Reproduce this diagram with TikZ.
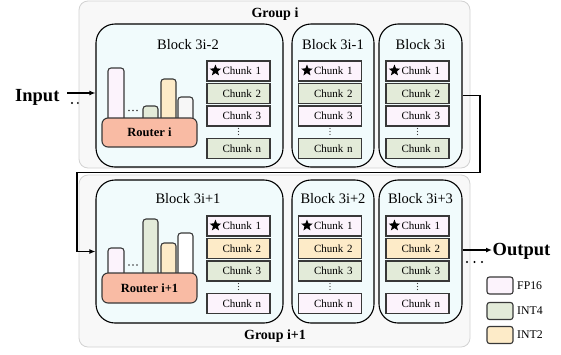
\documentclass[tikz,border=0pt]{standalone}
\usepackage{fontspec}
\setmainfont{Liberation Serif}
\usetikzlibrary{shapes.geometric,arrows.meta}
\definecolor{fp}{HTML}{FCF3FC}
\definecolor{ifour}{HTML}{E3EBD9}
\definecolor{itwo}{HTML}{FDEBC8}
\definecolor{rt}{HTML}{F9BBA4}
\definecolor{blk}{HTML}{F1FBFC}
\definecolor{grp}{HTML}{F8F8F8}
\definecolor{grpline}{HTML}{D2D2D2}
\definecolor{wb}{HTML}{F7F7F7}
\definecolor{ln}{HTML}{383838}
\tikzset{
  groupbox/.style={draw=grpline, fill=grp, line width=0.8pt, rounded corners=9pt, inner sep=0pt},
  blockbox/.style={draw=black, fill=blk, line width=1.1pt, rounded corners=19pt, inner sep=0pt},
  chunk/.style={draw=ln, line width=1.1pt, minimum width=63pt, minimum height=20pt, inner sep=0pt,
    text width=45pt, align=right, font=\fontsize{11}{12}\selectfont},
  router/.style={draw=ln, fill=rt, line width=1.1pt, rounded corners=6pt, minimum width=95pt,
    inner sep=0pt, font=\bfseries\fontsize{12.5}{14}\selectfont},
  barbox/.style={draw=ln, line width=1.1pt, rounded corners=3pt},
  legbox/.style={draw=ln, line width=1.1pt, rounded corners=2.5pt, minimum width=26pt, minimum height=17pt, inner sep=0pt},
  legtext/.style={anchor=west, inner sep=0pt, font=\fontsize{11.8}{13}\selectfont},
  title/.style={inner sep=0pt, font=\fontsize{14.5}{16}\selectfont},
  grouptitle/.style={inner sep=0pt, font=\bfseries\fontsize{14}{16}\selectfont},
  bigtext/.style={inner sep=0pt, font=\bfseries\fontsize{18.5}{20}\selectfont},
  starmark/.style={star, star points=5, star point ratio=2.3, fill=black, draw=none, minimum size=12pt, inner sep=0pt},
  conn/.style={draw=black, line width=1.4pt, -{Latex[length=6pt,width=5pt]}},
  vdot/.style={fill=ln, draw=none, circle, inner sep=0pt, minimum size=1.3pt},
  bdot/.style={fill=black, draw=none, circle, inner sep=0pt, minimum size=2.2pt}
}
\begin{document}
\begin{tikzpicture}[x=1pt,y=-1pt]
\useasboundingbox (0,0) rectangle (561,354);
% dots behind group near input
\foreach \dx [count=\k] in {72,78,84} \node[bdot] (ind\k) at (\dx,103) {};
% groups
\node[groupbox, minimum width=391pt, minimum height=167pt] (G1) at (274.5,84.5) {};
\node[groupbox, minimum width=391pt, minimum height=172pt] (G2) at (274.5,261) {};
\node[grouptitle] (G1t) at (275,14) {Group i};
\node[grouptitle] (G2t) at (275,336) {Group i+1};
% blocks
\node[blockbox, minimum width=187pt, minimum height=143pt] (A) at (189.5,95.5) {};
\node[blockbox, minimum width=82pt, minimum height=143pt] (B) at (333,95.5) {};
\node[blockbox, minimum width=83pt, minimum height=143pt] (C) at (420.5,95.5) {};
\node[blockbox, minimum width=187pt, minimum height=143pt] (D) at (189.5,251.5) {};
\node[blockbox, minimum width=82pt, minimum height=143pt] (E) at (333,251.5) {};
\node[blockbox, minimum width=83pt, minimum height=143pt] (F) at (420.5,251.5) {};
\node[title] (At) at (188,45) {Block 3i-2};
\node[title] (Bt) at (333,45) {Block 3i-1};
\node[title] (Ct) at (420.5,45) {Block 3i};
\node[title] (Dt) at (188,199) {Block 3i+1};
\node[title] (Et) at (333,199) {Block 3i+2};
\node[title] (Ft) at (420.5,199) {Block 3i+3};
% top chunks
\foreach \p/\cx in {A/238.5, B/330, C/417.5} {
  \node[chunk, fill=fp] (\p1) at (\cx,71) {Chunk 1};
  \node[chunk, fill=ifour] (\p2) at (\cx,93.5) {Chunk 2};
  \node[chunk, fill=fp] (\p3) at (\cx,116) {Chunk 3};
  \node[chunk, fill=ifour] (\p n) at (\cx,148.5) {Chunk n};
  \node[starmark] (\p s) at ([xshift=9pt,yshift=0.5pt]\p1.west) {};
  \foreach \dy in {128.5,131.5,134.5} \node[vdot] at (\cx,\dy) {};
}
% bottom chunks
\foreach \p/\cx in {D/238.5, E/330, F/417.5} {
  \node[chunk, fill=fp] (\p1) at (\cx,226) {Chunk 1};
  \node[chunk, fill=itwo] (\p2) at (\cx,248.5) {Chunk 2};
  \node[chunk, fill=ifour] (\p3) at (\cx,271) {Chunk 3};
  \node[chunk, fill=fp] (\p n) at (\cx,303.5) {Chunk n};
  \node[starmark] (\p s) at ([xshift=9pt,yshift=0.5pt]\p1.west) {};
  \foreach \dy in {283.5,286.5,289.5} \node[vdot] at (\cx,\dy) {};
}
% bars top
\draw[barbox, fill=fp] (108,68) rectangle (124,124);
\draw[barbox, fill=ifour] (143,106) rectangle (158,124);
\draw[barbox, fill=itwo] (161,79) rectangle (176,124);
\draw[barbox, fill=wb] (178,97) rectangle (193,124);
\foreach \dx in {129,133,137} \node[vdot, minimum size=1.8pt] at (\dx,110.5) {};
\node[router, minimum height=29pt] (RA) at (149.5,132.5) {Router i};
% bars bottom
\draw[barbox, fill=fp] (108,248) rectangle (124,280);
\draw[barbox, fill=ifour] (143,219) rectangle (158,280);
\draw[barbox, fill=itwo] (161,243) rectangle (176,280);
\draw[barbox, fill=white] (178,233) rectangle (193,280);
\foreach \dx in {129,133,137} \node[vdot, minimum size=1.8pt] at (\dx,265) {};
\node[router, minimum height=30pt] (RD) at (149.5,288) {Router i+1};
% input
\node[bigtext, anchor=west] (inp) at (15,97) {Input};
\coordinate (inS) at (67,93);
\draw[conn] (inS) -- (inS -| A.west);
% connector between groups
\coordinate (t1) at (480,172.5);
\coordinate (t2) at (77,172.5);
\draw[conn] (C.east) -| (t1) -- (t2) |- (D.west);
% output
\coordinate (outE) at (492,250);
\draw[conn] (outE -| F.east) -- (outE);
\node[bigtext, anchor=west] (outp) at (492.5,251.5) {Output};
\foreach \dx [count=\k] in {467,474.5,482} \node[bdot] (outd\k) at (\dx,262) {};
% legend
\node[legbox, fill=fp] (L1) at (500,285.5) {};
\node[legbox, fill=ifour] (L2) at (500,311) {};
\node[legbox, fill=itwo] (L3) at (500,335) {};
\node[legtext] (L1t) at (517,285.5) {FP16};
\node[legtext] (L2t) at (517,311) {INT4};
\node[legtext] (L3t) at (517,335) {INT2};
\end{tikzpicture}
\end{document}
